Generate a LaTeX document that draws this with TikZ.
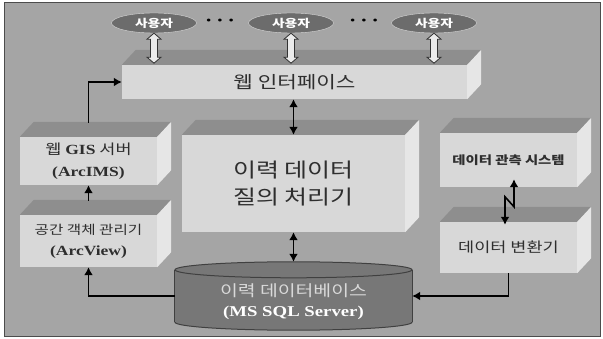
\documentclass[tikz,border=0pt]{standalone}
\usepackage{fontspec}
\setmainfont{Noto Sans CJK KR}[FakeStretch=1.25]
\newfontfamily\tms{Liberation Serif}[FakeStretch=1.25]
\usetikzlibrary{arrows.meta,shapes.geometric,backgrounds}
\definecolor{bggray}{HTML}{A5A5A5}
\definecolor{frontgray}{HTML}{D8D8D8}
\definecolor{topgray}{HTML}{8E8E8E}
\definecolor{sidegray}{HTML}{E6E6E6}
\definecolor{usergray}{HTML}{6C6C6C}
\definecolor{dbgray}{HTML}{777777}
\definecolor{boxtext}{HTML}{2E2E2E}

\begin{document}
\begin{tikzpicture}[x=1pt,y=-1pt,
    box/.style={fill=frontgray, inner sep=0pt, align=center, text=boxtext},
    user/.style={ellipse, draw=frontgray, fill=usergray, minimum width=85pt, minimum height=20pt,
        inner sep=0pt, text=white, font=\bfseries\fontsize{11}{11}\selectfont},
    arr/.style={draw, line width=1.6pt, >={Latex[length=8pt,width=9pt]}},
    hollow/.style={draw=black!80, fill=white!92!black, line width=0.8pt}]
    \useasboundingbox (0,0) rectangle (603,339);
    % users
    \node[user] (u1) at (154,23) {사용자};
    \node[user] (u2) at (291,23) {사용자};
    \node[user] (u3) at (434,23) {사용자};
    \node (d1) at (220,22) {\tms\fontsize{12}{12}\selectfont •\hspace{6pt}•\hspace{6pt}•};
    \node (d2) at (364,22) {\tms\fontsize{12}{12}\selectfont •\hspace{6pt}•\hspace{6pt}•};
    % boxes
    \node[box, minimum width=345pt, minimum height=34pt, font=\fontsize{17}{17}\selectfont] (web) at (294.5,82) {웹 인터페이스};
    \node[box, minimum width=137pt, minimum height=48pt, font=\fontsize{14}{22}\selectfont] (gis) at (88.5,161)
        {웹 {\tms\bfseries GIS} 서버\\{\tms\bfseries (ArcIMS)}};
    \node[box, minimum width=137pt, minimum height=52pt, font=\fontsize{12.5}{21}\selectfont] (arcview) at (88.5,241)
        {공간 객체 관리기\\{\tms\bfseries\fontsize{14}{21}\selectfont (ArcView)}};
    \node[box, minimum width=223pt, minimum height=97pt, font=\fontsize{20}{27}\selectfont] (query) at (293.5,183.5)
        {이력 데이터\\질의 처리기};
    \node[box, minimum width=137pt, minimum height=54pt, font=\bfseries\fontsize{11.5}{12}\selectfont] (obs) at (508.5,160)
        {데이터 관측 시스템};
    \node[box, minimum width=137pt, minimum height=51pt, font=\fontsize{14}{14}\selectfont] (conv) at (508.5,247.5)
        {데이터 변환기};
    \node[minimum width=237pt, minimum height=52pt, inner sep=0pt] (db) at (293.5,296) {};
    \node[align=center, font=\fontsize{15.5}{20}\selectfont, text=white!85!black] (dblabel) at (293.5,302)
        {이력 데이터베이스\\{\tms\bfseries\fontsize{15}{20}\selectfont\color{white}(MS SQL Server)}};
    % top and side faces
    \foreach \b in {web,gis,arcview,query,obs,conv}{
        \path[fill=topgray] (\b.north west) -- ++(14,-15) -- ([shift={(14,-15)}]\b.north east) -- (\b.north east) -- cycle;
        \path[fill=sidegray] (\b.north east) -- ++(14,-15) -- ([shift={(14,-15)}]\b.south east) -- (\b.south east) -- cycle;
    }
    \begin{scope}[on background layer]
        \path[draw=black!70, fill=bggray, line width=1pt] (4,3) rectangle (600,337);
        \path[fill=dbgray, draw=black!75, line width=1pt] (db.south) ellipse [x radius=118.5pt, y radius=8pt];
        \path[fill=dbgray] (db.north west) rectangle (db.south east);
        \path[draw=black!75, line width=1pt] (db.north west) -- (db.south west) (db.north east) -- (db.south east);
        \path[fill=dbgray, draw=black!75, line width=1pt] (db.north) ellipse [x radius=118.5pt, y radius=8pt];
    \end{scope}
    % user arrows
    \foreach \u in {u1,u2,u3}
        \path[hollow] (\u.south) -- ++(7,6) -- ++(-3.5,0) -- ++(0,18) -- ++(3.5,0) -- ++(-7,6)
            -- ++(-7,-6) -- ++(3.5,0) -- ++(0,-18) -- ++(-3.5,0) -- cycle;
    % data flow
    \path[arr,<->] (query.north) -- (query.north |- web.south);
    \path[arr,<->] (query.south) -- ([yshift=8pt]db.north);
    \path[arr,->] (db.west) -| (arcview.south);
    \path[arr,->] ([yshift=14pt]arcview.north) -- (gis.south);
    \path[arr,->] ([yshift=14pt]gis.north) |- (web.west);
    \path[arr,->] (conv.south) |- (db.east);
    \path[arr,<->] ([xshift=-3.5pt,yshift=-3pt]conv.north) -- ++(0,-28) -- ++(9,10) -- ([xshift=5.5pt,yshift=8pt]obs.south);
\end{tikzpicture}
\end{document}
